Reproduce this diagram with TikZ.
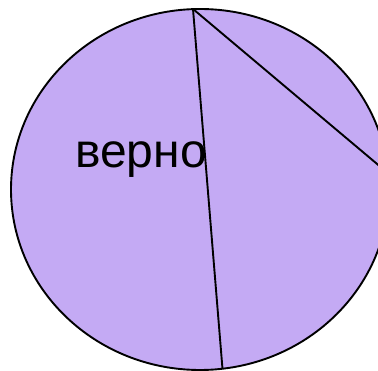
\documentclass[tikz,border=0pt]{standalone}
\usepackage{fontspec}
\setmainfont{Liberation Sans}
\definecolor{pie}{RGB}{196,170,244}
\begin{document}
\begin{tikzpicture}[x=1pt,y=-1pt,
  sector/.style={fill=pie,draw=black,line width=1.9pt},
  edge/.style={draw=black,line width=1.9pt},
  lbl/.style={font=\fontsize{48}{48}\selectfont,inner sep=0pt,anchor=base west}]
\useasboundingbox (0,0) rectangle (378,371);
\clip (0,0) rectangle (378,371);
\coordinate (c) at (200,189.5);
\draw[sector] (c) ellipse [x radius=189, y radius=180.5];
\coordinate (apex) at (193,9);
\coordinate (b) at (222.5,369);
\coordinate (r) at (389,174);
\draw[edge] (apex) -- (b);
\draw[edge] (apex) -- (r);
\node[lbl] (t) at (75,168) {верно};
\end{tikzpicture}
\end{document}
